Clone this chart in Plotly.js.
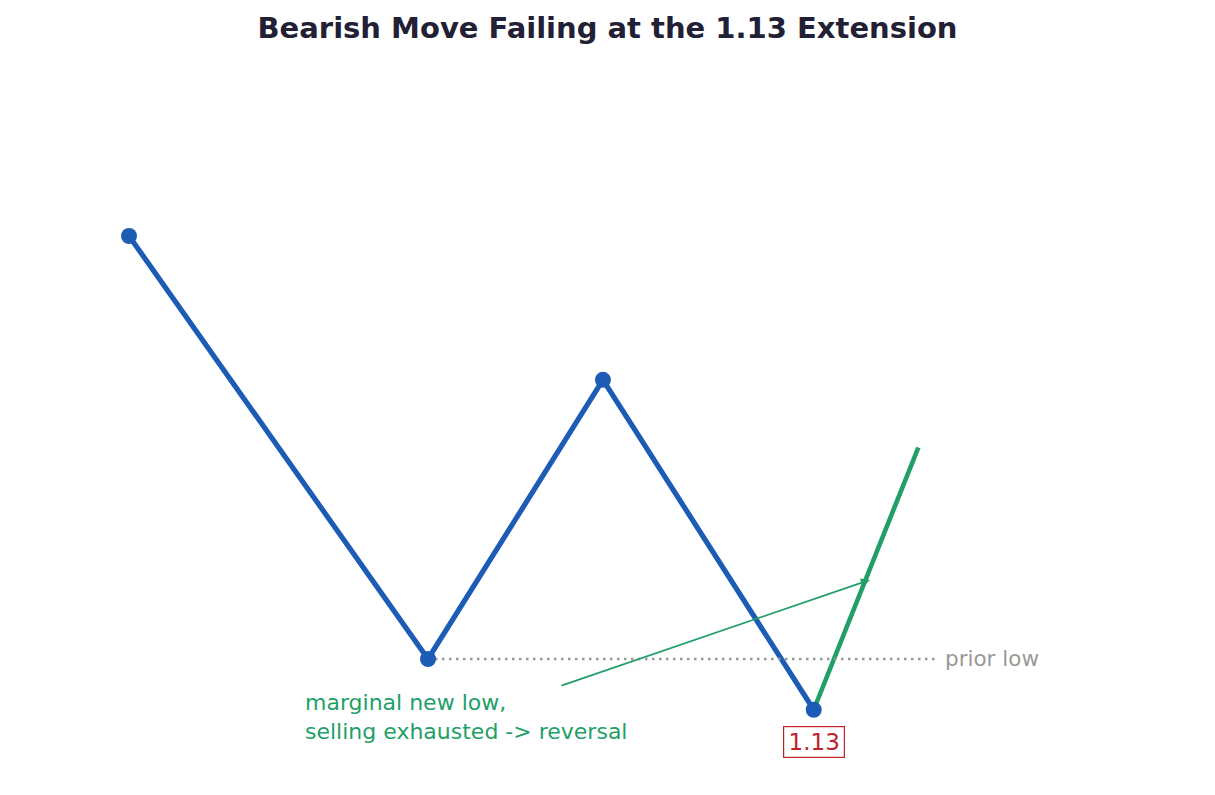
<!DOCTYPE html>
<html>
<head>
<meta charset="utf-8">
<script src="https://cdn.plot.ly/plotly-3.0.1.min.js"></script>
<style>html,body{margin:0;padding:0;background:#fff;}#chart{width:1215px;height:795px;}</style>
</head>
<body>
<div id="chart"></div>
<script>
// Swing points (A high, B low, C high, D extension low)
const swingX = [0, 10, 15.85, 22.9];
const swingY = [110, 100, 106.6, 98.8];
// Reversal leg
const revX = [22.9, 26.4];
const revY = [98.8, 105.0];
// Prior low reference level
const priorLowX = [10, 27];
const priorLowY = [100, 100];
// Arrow (tail -> head)
const arrowTail = [14.41, 99.36];
const arrowHead = [24.78, 101.87];
const noteText = "marginal new low,<br>selling exhausted -> reversal";
const extLabel = "1.13";
const titleText = "Bearish Move Failing at the 1.13 Extension";

const blue = "#1c5cb4";
const green = "#229f68";
const gray = "#999999";
const red = "#c0212d";

const traces = [
  {x: swingX, y: swingY, mode: "lines", line: {color: blue, width: 5.2}, hoverinfo: "skip"},
  {x: revX, y: revY, mode: "lines", line: {color: green, width: 4.6}, hoverinfo: "skip"},
  {x: priorLowX, y: priorLowY, mode: "lines", line: {color: gray, width: 2.5, dash: "2.5px,4.5px"}, hoverinfo: "skip"},
  {x: swingX, y: swingY, mode: "markers", marker: {color: blue, size: 16}, hoverinfo: "skip"}
];

const layout = {
  width: 1215, height: 795,
  margin: {l: 60, r: 60, t: 70, b: 40},
  paper_bgcolor: "#fff", plot_bgcolor: "#fff",
  showlegend: false,
  font: {family: "DejaVu Sans", color: "#222"},
  title: {text: "<b>" + titleText + "</b>", font: {family: "DejaVu Sans", size: 29, color: "#222034"}, x: 0.5, xanchor: "center", y: 0.965, yanchor: "middle"},
  xaxis: {range: [-2.308, 34.314], visible: false, fixedrange: true},
  yaxis: {range: [97.73, 113.924], visible: false, fixedrange: true},
  annotations: [
    {x: priorLowX[1], y: priorLowY[1], text: "prior low", showarrow: false, xanchor: "left", yanchor: "middle", xshift: 7, font: {size: 21.5, color: gray}},
    {x: 5.886, y: 98.617, text: noteText, showarrow: false, xanchor: "left", yanchor: "middle", align: "left", xshift: -2, font: {size: 22, color: green}},
    {x: arrowHead[0], y: arrowHead[1], ax: arrowTail[0], ay: arrowTail[1], axref: "x", ayref: "y", xref: "x", yref: "y", text: "", showarrow: true, arrowhead: 2, arrowsize: 1, arrowwidth: 1.8, arrowcolor: green},
    {x: swingX[3], y: swingY[3], text: extLabel, showarrow: false, xanchor: "center", yanchor: "top", yshift: -16, width: 56, height: 26, font: {size: 23, color: red}, bordercolor: red, borderwidth: 1.2, borderpad: 2, bgcolor: "#fff"}
  ]
};

Plotly.newPlot("chart", traces, layout, {displayModeBar: false, staticPlot: true});
</script>
</body>
</html>
